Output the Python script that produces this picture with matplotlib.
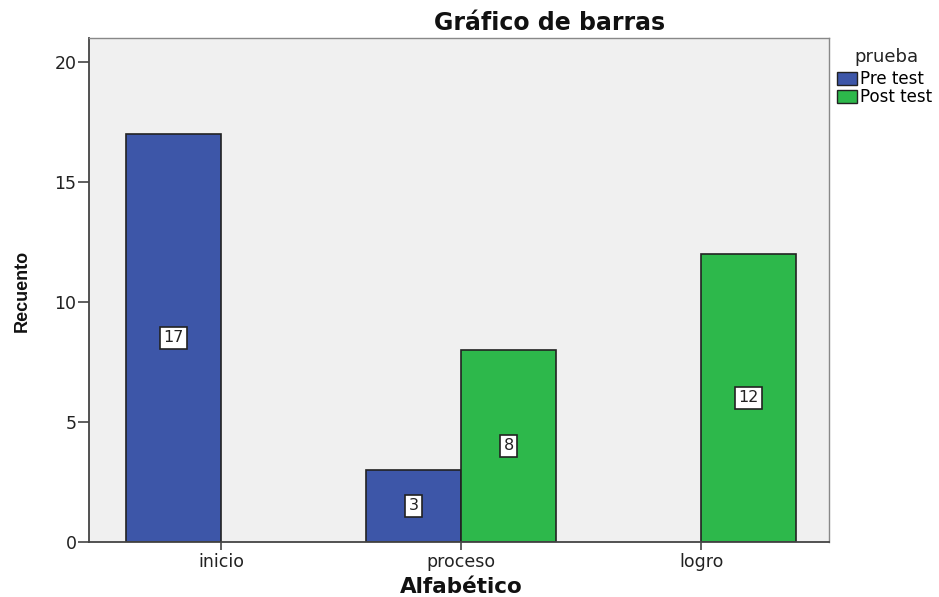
import numpy as np
import matplotlib
matplotlib.use("Agg")
import matplotlib.pyplot as plt
from matplotlib.patches import Patch

categorias = ["inicio", "proceso", "logro"]
pre_test = [17, 3, 0]
post_test = [0, 8, 12]
series = ["Pre test", "Post test"]
colores = ["#3D56A8", "#2DB84B"]

plt.rcParams['font.family'] = ['DejaVu Sans']

fig = plt.figure(figsize=(9.39, 5.97), dpi=100)
ax = fig.add_axes([89/939, 1-542/597, (829-89)/939, (542-38)/597])
ax.set_facecolor("#F0F0F0")

x = np.arange(len(categorias))
w = 0.396
for i, (vals, col) in enumerate(zip([pre_test, post_test], colores)):
    off = (i - 0.5) * w
    for xi, v in zip(x, vals):
        if v <= 0:
            continue
        ax.bar(xi + off, v, width=w, color=col, edgecolor="#222222", linewidth=1.2, zorder=2)
        ax.text(xi + off, v / 2, str(v), ha="center", va="center", fontsize=11.5, color="#222222",
                bbox=dict(boxstyle="square,pad=0.2", fc="white", ec="#222222", lw=1.2), zorder=3)

ax.set_xlim(-0.55, 2.533)
ax.set_ylim(0, 21)
ax.set_yticks([0, 5, 10, 15, 20])
ax.set_xticks(x)
ax.set_xticklabels(categorias)
ax.tick_params(axis="y", colors="#444444", labelcolor="#222222", labelsize=12.5, length=8, width=1.2, pad=1)
ax.tick_params(axis="x", colors="#444444", labelcolor="#222222", labelsize=12.5, length=6, width=1.2, pad=2)
for s in ["left", "bottom"]:
    ax.spines[s].set_color("#444444")
    ax.spines[s].set_linewidth(1.3)
for s in ["top", "right"]:
    ax.spines[s].set_color("#888888")
    ax.spines[s].set_linewidth(1.0)

fig.text(550/939, 1-30/597, "Gráfico de barras", ha="center", va="baseline", fontsize=17,
         fontweight="bold", color="#111111")
fig.text(461/939, 1-593/597, "Alfabético", ha="center", va="baseline", fontsize=15.5,
         fontweight="bold", color="#111111")
fig.text(22/939, 1-291/597, "Recuento", rotation=90, ha="center", va="center", fontsize=13,
         fontweight="bold", color="#111111", family=['Liberation Sans', 'DejaVu Sans'])

# legend: title drawn separately so the spacing matches
fig.text(886/939, 1-62/597, "prueba", ha="center", va="baseline", fontsize=13, color="#222222")
handles = [Patch(facecolor=c, edgecolor="#222222", label=s) for s, c in zip(series, colores)]
leg = fig.legend(handles=handles, loc="upper left", bbox_to_anchor=(837/939, 1-70/597),
                 frameon=False, fontsize=12, handlelength=1.2, handleheight=0.85,
                 handletextpad=0.2, labelspacing=0.0, borderpad=0, borderaxespad=0)

fig.savefig("out.png", dpi=100)
